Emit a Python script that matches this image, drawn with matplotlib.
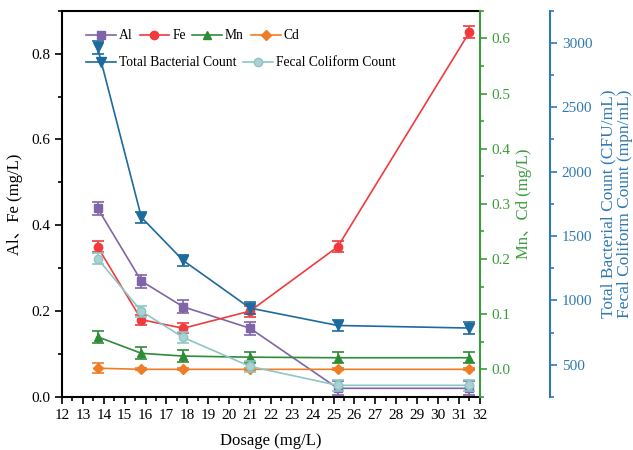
import matplotlib
matplotlib.use("Agg")
import matplotlib.pyplot as plt
from matplotlib.ticker import MultipleLocator

plt.rcParams['font.family'] = ['Liberation Serif', 'Noto Sans CJK SC']
plt.rcParams['font.size'] = 10

# dosage levels (mg/L)
dosage = [13.7, 15.8, 17.8, 21.0, 25.2, 31.5]

# metals on the left axis (mg/L)
al = [0.44, 0.27, 0.21, 0.16, 0.02, 0.02]
al_err = [0.015, 0.015, 0.015, 0.015, 0.016, 0.016]
fe = [0.35, 0.18, 0.16, 0.20, 0.35, 0.85]
fe_err = [0.013, 0.012, 0.012, 0.013, 0.013, 0.014]

# metals on the green axis (mg/L)
mn = [0.059, 0.029, 0.024, 0.022, 0.021, 0.021]
mn_err = [0.011, 0.011, 0.011, 0.010, 0.010, 0.010]
cd = [0.002, 0.0, 0.0, 0.0, 0.0, 0.0]
cd_err = [0.009, 0.002, 0.002, 0.002, 0.002, 0.002]

# bacteria on the blue axis
tbc = [2965, 1645, 1310, 940, 805, 785]
tbc_err = [52, 45, 45, 45, 45, 45]
fecal = [1325, 915, 712, 487, 340, 340]
fecal_err = [45, 42, 42, 40, 45, 45]

c_al = '#8064a8'
c_fe = '#f03a3e'
c_mn = '#2e8b36'
c_cd = '#ef7d27'
c_tbc = '#1d6a9e'
c_fecal = '#8ec6c6'
c_green_ax = '#3c9c3c'
c_blue_ax = '#3079b0'

fig = plt.figure(figsize=(6.33, 4.5), dpi=100)
ax = fig.add_axes([0.098, 0.118, 0.660, 0.858])
ax2 = ax.twinx()
ax3 = ax.twinx()
ax3.spines['right'].set_position(('axes', 1.168))

eb = dict(capsize=4, elinewidth=1.2, capthick=1.2, lw=1.2, ms=6)

h_al = ax.errorbar(dosage, al, yerr=al_err, color=c_al, marker='s', label='Al', **eb)
h_fe = ax.errorbar(dosage, fe, yerr=fe_err, color=c_fe, marker='o', label='Fe', **eb)
h_mn = ax2.errorbar(dosage, mn, yerr=mn_err, color=c_mn, marker='^', label='Mn', **eb)
h_cd = ax2.errorbar(dosage, cd, yerr=cd_err, color=c_cd, marker='D', label='Cd',
                    **{**eb, 'ms': 5.5})
h_tbc = ax3.errorbar(dosage, tbc, yerr=tbc_err, color=c_tbc, marker='v',
                     label='Total Bacterial Count', **{**eb, 'ms': 7})
h_fec = ax3.errorbar(dosage, fecal, yerr=fecal_err, color=c_fecal, marker='o',
                     mfc='#a9d3d3', mec=c_fecal, label='Fecal Coliform Count', **eb)

# left axis
ax.set_xlim(12, 32)
ax.set_ylim(0, 0.9)
ax.xaxis.set_major_locator(MultipleLocator(1))
ax.xaxis.set_minor_locator(MultipleLocator(0.5))
ax.yaxis.set_major_locator(MultipleLocator(0.2))
ax.yaxis.set_minor_locator(MultipleLocator(0.1))
ax.tick_params(which='both', direction='out', width=1.2)
ax.tick_params(which='major', length=5, labelsize=11)
ax.tick_params(which='minor', length=3)
ax.set_xlabel('Dosage (mg/L)', fontsize=12, labelpad=8)
ax.set_ylabel('Al、Fe (mg/L)', fontsize=12, labelpad=6)
for s in ['left', 'bottom', 'top']:
    ax.spines[s].set_linewidth(1.5)
ax.spines['right'].set_visible(False)

# green axis
ax2.set_ylim(-0.05, 0.65)
ax2.yaxis.set_major_locator(MultipleLocator(0.1))
ax2.yaxis.set_minor_locator(MultipleLocator(0.05))
ax2.spines['right'].set_color(c_green_ax)
ax2.spines['right'].set_linewidth(1.5)
ax2.tick_params(axis='y', which='both', direction='out', colors=c_green_ax, width=1.2)
ax2.tick_params(axis='y', which='major', length=5, labelsize=11)
ax2.tick_params(axis='y', which='minor', length=3)
ax2.yaxis.set_major_formatter(plt.FormatStrFormatter('%.1f'))
ax2.set_ylabel('Mn、Cd (mg/L)', fontsize=12, color=c_green_ax, labelpad=4)
for s in ['left', 'bottom', 'top']:
    ax2.spines[s].set_visible(False)

# blue axis
ax3.set_ylim(250, 3250)
ax3.yaxis.set_major_locator(MultipleLocator(500))
ax3.yaxis.set_minor_locator(MultipleLocator(250))
ax3.spines['right'].set_color(c_blue_ax)
ax3.spines['right'].set_linewidth(1.5)
ax3.tick_params(axis='y', which='both', direction='out', colors=c_blue_ax, width=1.2)
ax3.tick_params(axis='y', which='major', length=5, labelsize=11)
ax3.tick_params(axis='y', which='minor', length=3)
ax3.set_ylabel('Total Bacterial Count (CFU/mL)\nFecal Coliform Count (mpn/mL)',
               fontsize=12.5, color=c_blue_ax, labelpad=6, linespacing=1.0)
for s in ['left', 'bottom', 'top']:
    ax3.spines[s].set_visible(False)

leg_kw = dict(frameon=False, fontsize=9.8, handlelength=2.2, handletextpad=0.2,
              columnspacing=0.5, borderaxespad=0)
lines1 = [h_al[0], h_fe[0], h_mn[0], h_cd[0]]
leg1 = ax3.legend(lines1, [l.get_label() for l in [h_al, h_fe, h_mn, h_cd]],
                  ncol=4, loc='upper left', bbox_to_anchor=(0.045, 0.966), **leg_kw)
ax3.add_artist(leg1)
lines2 = [h_tbc[0], h_fec[0]]
ax3.legend(lines2, ['Total Bacterial Count', 'Fecal Coliform Count'],
           ncol=2, loc='upper left', bbox_to_anchor=(0.045, 0.896), **leg_kw)

fig.savefig('out.png', dpi=100)
